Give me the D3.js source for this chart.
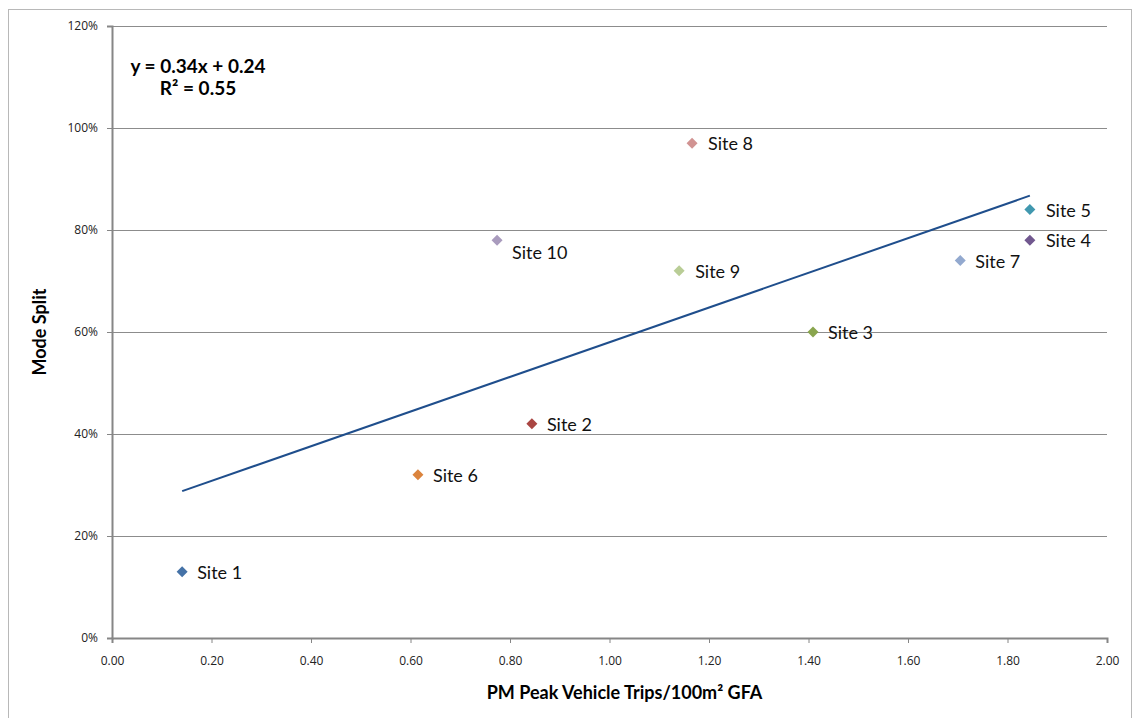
<!DOCTYPE html>
<html>
<head>
<meta charset="utf-8">
<script src="https://cdn.jsdelivr.net/npm/d3@7"></script>
<style>
  html, body { margin: 0; padding: 0; background: #fff; }
  svg { display: block; font-family: Lato, "Open Sans", "Liberation Sans", sans-serif; }
</style>
</head>
<body>
<svg id="chart" width="1136" height="718"></svg>
<script>
// Site observations
const sites   = ["Site 1", "Site 2", "Site 3", "Site 4", "Site 5", "Site 6", "Site 7", "Site 8", "Site 9", "Site 10"];
const trips   = [0.141, 0.844, 1.409, 1.845, 1.845, 0.615, 1.705, 1.166, 1.140, 0.774];
const modeSplit = [0.13, 0.42, 0.60, 0.78, 0.84, 0.32, 0.74, 0.97, 0.72, 0.78];
const colors  = ["#4572A7", "#AA4643", "#89A54E", "#71588F", "#4198AF", "#DB843D", "#93A9CF", "#D19392", "#B9CD96", "#A99BBD"];
// Label offsets (relative to each marker)
const labelDx = [15, 15, 15, 16, 16, 15, 15, 16, 16, 15];
const labelDy = [7, 7, 7, 7, 7, 7, 7, 7, 7, 19];

// Linear trend: y = 0.34x + 0.24
const slope = 0.34, intercept = 0.24;
const xTicks = [0, 0.2, 0.4, 0.6, 0.8, 1.0, 1.2, 1.4, 1.6, 1.8, 2.0];
const yTicks = [0, 0.2, 0.4, 0.6, 0.8, 1.0, 1.2];

const svg = d3.select("#chart");
const m = { left: 112, right: 1107, top: 26, bottom: 638 };

const x = d3.scaleLinear().domain([0, 2]).range([m.left, m.right]);
const y = d3.scaleLinear().domain([0, 1.2]).range([m.bottom, m.top]);

// outer frame
svg.append("rect")
  .attr("x", 8.5).attr("y", 9.5).attr("width", 1123).attr("height", 720)
  .attr("fill", "none").attr("stroke", "#b8b8b8").attr("stroke-width", 1);

// horizontal gridlines
svg.append("g").selectAll("line").data(yTicks.filter(d => d > 0)).join("line")
  .attr("x1", m.left).attr("x2", m.right)
  .attr("y1", d => Math.round(y(d)) + 0.5).attr("y2", d => Math.round(y(d)) + 0.5)
  .attr("stroke", "#8c8c8c").attr("stroke-width", 1);

// y axis
const yAxis = svg.append("g")
  .attr("transform", `translate(${m.left},0)`)
  .call(d3.axisLeft(y).tickValues(yTicks).tickFormat(d3.format(".0%")).tickSize(5).tickPadding(9));
// x axis
const xAxis = svg.append("g")
  .attr("transform", `translate(0,${m.bottom})`)
  .call(d3.axisBottom(x).tickValues(xTicks).tickFormat(d3.format(".2f")).tickSize(5).tickPadding(13));

[yAxis, xAxis].forEach(g => {
  g.select(".domain").attr("stroke", "#868686").attr("stroke-width", 2);
  g.selectAll(".tick line").attr("stroke", "#868686");
  g.selectAll(".tick text").attr("fill", "#222").style("font-size", "12px")
    .style("font-family", "'Open Sans', 'Liberation Sans', sans-serif");
});

// trendline across the observed x range
const xr = d3.extent(trips);
svg.append("line")
  .attr("x1", x(xr[0])).attr("y1", y(slope * xr[0] + intercept))
  .attr("x2", x(xr[1])).attr("y2", y(slope * xr[1] + intercept))
  .attr("stroke", "#1F4E8C").attr("stroke-width", 2);

// markers
const diamond = "M0,-5.5L5.5,0L0,5.5L-5.5,0Z";
const pts = svg.append("g");
sites.forEach((s, i) => {
  pts.append("path")
    .attr("d", diamond)
    .attr("transform", `translate(${x(trips[i])},${y(modeSplit[i])})`)
    .attr("fill", colors[i]);
  pts.append("text")
    .attr("x", x(trips[i]) + labelDx[i])
    .attr("y", y(modeSplit[i]) + labelDy[i])
    .attr("fill", "#111")
    .style("font-size", "18px")
    .text(s);
});

// regression equation
svg.append("text").attr("x", 198).attr("y", 73).attr("text-anchor", "middle")
  .style("font-size", "19px").style("font-weight", "bold").attr("fill", "#000")
  .text("y = 0.34x + 0.24");
svg.append("text").attr("x", 198).attr("y", 95).attr("text-anchor", "middle")
  .style("font-size", "19px").style("font-weight", "bold").attr("fill", "#000")
  .text("R² = 0.55");

// axis titles
svg.append("text")
  .attr("transform", `translate(46,${(m.top + m.bottom) / 2}) rotate(-90)`)
  .attr("text-anchor", "middle")
  .style("font-size", "18px").style("font-weight", "bold").attr("fill", "#000")
  .text("Mode Split");
svg.append("text")
  .attr("x", (m.left + m.right) / 2 + 15).attr("y", 699)
  .attr("text-anchor", "middle")
  .style("font-size", "18px").style("font-weight", "bold").attr("fill", "#000")
  .text("PM Peak Vehicle Trips/100m² GFA");
</script>
</body>
</html>
